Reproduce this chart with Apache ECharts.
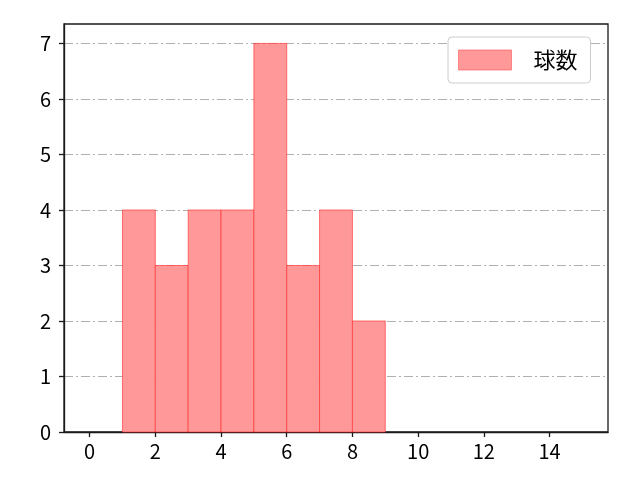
<!DOCTYPE html>
<html>
<head>
<meta charset="utf-8">
<script src="https://cdn.jsdelivr.net/npm/echarts@6/dist/echarts.min.js"></script>
<style>html,body{margin:0;padding:0;background:#fff}#c{width:640px;height:480px}</style>
</head>
<body>
<div id="c"></div>
<script>
// Histogram data: bin edges and counts
var binStarts = [1, 2, 3, 4, 5, 6, 7, 8];
var binEnds   = [2, 3, 4, 5, 6, 7, 8, 9];
var counts    = [4, 3, 4, 4, 7, 3, 4, 2];
var xTicks = [0, 2, 4, 6, 8, 10, 12, 14];
var yTicks = [0, 1, 2, 3, 4, 5, 6, 7];
var seriesName = '球数';

var FONT = '"Noto Sans CJK JP", "DejaVu Sans", sans-serif';
var data = binStarts.map(function (s, i) { return [s, binEnds[i], counts[i]]; });

var chart = echarts.init(document.getElementById('c'), null, {renderer: 'canvas'});
chart.setOption({
  animation: false,
  backgroundColor: '#fff',
  grid: {left: 64, right: 32, top: 24, bottom: 48, show: true, borderColor: '#1a1a1a', borderWidth: 1.3, backgroundColor: 'transparent'},
  legend: {
    show: true,
    left: 448, top: 37,
    orient: 'horizontal',
    backgroundColor: '#fff',
    borderColor: '#cccccc', borderWidth: 1, borderRadius: 4,
    padding: [12, 13, 12, 10],
    itemWidth: 53, itemHeight: 20,
    textStyle: {fontFamily: FONT, fontSize: 22, color: '#000', padding: [0, 0, 0, 17], lineHeight: 22},
    data: [{name: seriesName, icon: 'rect', itemStyle: {color: '#ff9999', borderColor: 'rgba(255,80,80,0.6)', borderWidth: 1}}]
  },
  xAxis: {
    type: 'value', min: -0.78, max: 15.78,
    axisLine: {show: true, onZero: false, lineStyle: {color: '#1a1a1a', width: 1.3}},
    axisTick: {show: true, inside: false, length: 5, customValues: xTicks, lineStyle: {color: '#1a1a1a', width: 1.3}},
    axisLabel: {show: true, customValues: xTicks, margin: 9, color: '#000', fontFamily: FONT, fontSize: 20},
    splitLine: {show: false}
  },
  yAxis: {
    type: 'value', min: 0, max: 7.35,
    axisLine: {show: true, onZero: false, lineStyle: {color: '#1a1a1a', width: 1.3}},
    axisTick: {show: true, inside: false, length: 5, customValues: yTicks, lineStyle: {color: '#1a1a1a', width: 1.3}},
    axisLabel: {show: true, customValues: yTicks, margin: 13, color: '#000', fontFamily: FONT, fontSize: 20},
    splitLine: {show: true, lineStyle: {color: '#b0b0b0', width: 1, type: [9, 3, 2, 3]}}
  },
  series: [{
    type: 'custom',
    name: seriesName,
    data: data,
    encode: {x: [0, 1], y: 2},
    itemStyle: {color: '#ff9999'},
    renderItem: function (params, api) {
      var p0 = api.coord([api.value(0), api.value(2)]);
      var p1 = api.coord([api.value(1), 0]);
      return {
        type: 'rect',
        shape: {x: p0[0], y: p0[1], width: p1[0] - p0[0], height: p1[1] - p0[1]},
        style: {fill: '#ff9999', stroke: 'rgba(255,40,40,0.6)', lineWidth: 1}
      };
    }
  }]
});
</script>
</body>
</html>
